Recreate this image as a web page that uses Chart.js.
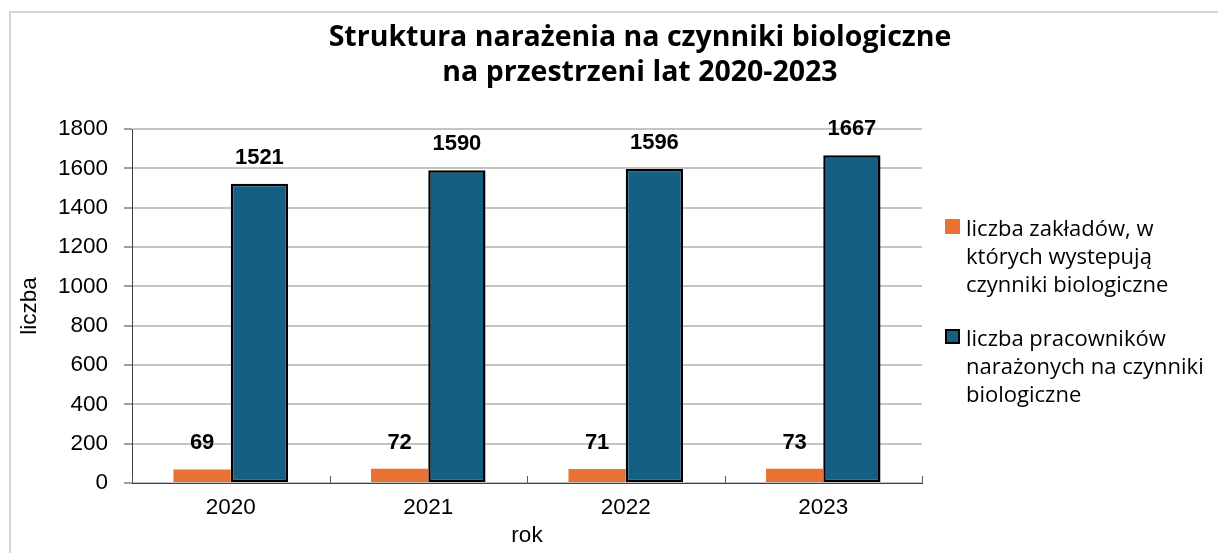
<!DOCTYPE html>
<html lang="pl">
<head>
<meta charset="utf-8">
<title>Struktura narażenia na czynniki biologiczne</title>
<script src="https://cdn.jsdelivr.net/npm/chart.js@4/dist/chart.umd.min.js"></script>
<style>
  html, body { margin: 0; padding: 0; background: #fff; overflow: hidden; }
  #wrap { position: relative; width: 1218px; height: 553px; }
  #frame {
    position: absolute; left: 9px; top: 11px; width: 1300px; height: 600px;
    border-left: 2px solid #d4d4d4; border-top: 2px solid #d4d4d4;
  }
  #myChart { position: absolute; left: 0; top: 0; }
  #title {
    position: absolute; left: 0; top: 18px; width: 1280px; text-align: center;
    font-family: "Open Sans", sans-serif; font-weight: 700; font-size: 28.5px;
    line-height: 35px; color: #000;
  }
  #legend {
    position: absolute; left: 945px; top: 213px;
    font-family: "Open Sans", sans-serif; font-size: 22px; line-height: 28px; color: #000;
  }
  .item { position: relative; padding-left: 21px; margin-bottom: 26px; white-space: nowrap; }
  .box { position: absolute; left: 0; top: 6px; width: 15px; height: 15px; box-sizing: border-box; }
</style>
</head>
<body>
<div id="wrap">
  <div id="frame"></div>
  <canvas id="myChart" width="1218" height="553"></canvas>
  <div id="title">Struktura narażenia na czynniki biologiczne<br>na przestrzeni lat 2020-2023</div>
  <div id="legend"></div>
</div>
<script>
const years = ['2020', '2021', '2022', '2023'];
const zaklady = [69, 72, 71, 73];
const pracownicy = [1521, 1590, 1596, 1667];
const seriesNames = [
  ['liczba zakładów, w', 'których wystepują', 'czynniki biologiczne'],
  ['liczba pracowników', 'narażonych na czynniki', 'biologiczne']
];

// value labels above each bar
const barLabels = {
  id: 'barLabels',
  afterDatasetsDraw(chart) {
    const ctx = chart.ctx;
    ctx.save();
    ctx.font = 'bold 22px "Liberation Sans", Arial, sans-serif';
    ctx.fillStyle = '#000';
    ctx.textAlign = 'center';
    ctx.textBaseline = 'middle';
    chart.data.datasets.forEach((ds, i) => {
      chart.getDatasetMeta(i).data.forEach((bar, j) => {
        ctx.fillText(String(ds.data[j]), bar.x, bar.y - 26);
      });
    });
    ctx.restore();
  }
};

// small inward ticks between categories
const categoryTicks = {
  id: 'categoryTicks',
  afterDraw(chart) {
    const x = chart.scales.x;
    const ctx = chart.ctx;
    ctx.save();
    ctx.strokeStyle = '#595959';
    ctx.lineWidth = 1;
    for (let i = 0; i <= years.length; i++) {
      const px = Math.round(x.getPixelForValue(i - 0.5)) + 0.5;
      ctx.beginPath();
      ctx.moveTo(px, x.top);
      ctx.lineTo(px, x.top - 7);
      ctx.stroke();
    }
    ctx.restore();
  }
};

function initChart(target) {
  const data = {
    labels: years,
    datasets: [{
      label: seriesNames[0].join(' '),
      data: zaklady,
      backgroundColor: '#E97132',
      borderWidth: 0
    }, {
      label: seriesNames[1].join(' '),
      data: pracownicy,
      backgroundColor: '#156082',
      borderColor: '#000',
      borderWidth: 2.5,
      borderSkipped: false
    }]
  };

  const tickFont = { family: '"Liberation Sans", Arial, sans-serif', size: 22.5 };

  const config = {
    type: 'bar',
    data: data,
    options: {
      responsive: false,
      animation: false,
      layout: { padding: { left: 10, right: 296, top: 129, bottom: 0 } },
      datasets: { bar: { categoryPercentage: 0.58, barPercentage: 1.0 } },
      plugins: {
        legend: { display: false },
        title: { display: false },
        tooltip: { enabled: false }
      },
      scales: {
        x: {
          afterFit(s) { s.height = 70; },
          grid: { display: true, drawOnChartArea: false, drawTicks: false },
          border: { display: true, color: '#404040', width: 1 },
          ticks: { color: '#000', font: tickFont, padding: 11 },
          title: { display: true, text: 'rok', color: '#000', font: tickFont, padding: { top: 0, bottom: 4 } }
        },
        y: {
          min: 0,
          max: 1800,
          afterFit(s) { s.width = 122; },
          grid: { color: '#c4c4c4', lineWidth: 2, tickColor: '#404040', tickWidth: 1, tickLength: 8 },
          border: { display: true, color: '#404040', width: 1 },
          ticks: { stepSize: 200, color: '#000', font: tickFont, padding: 16, callback: v => String(v) },
          title: { display: true, text: 'liczba', color: '#000', font: tickFont, padding: { top: 6, bottom: 0 } }
        }
      }
    },
    plugins: [barLabels, categoryTicks]
  };

  return new Chart(target, config);
}

function buildLegend() {
  const colors = [['#E97132', 'none'], ['#156082', '2px solid #000']];
  const legend = document.querySelector('#legend');
  seriesNames.forEach((lines, i) => {
    const item = document.createElement('div');
    item.className = 'item';
    const box = document.createElement('span');
    box.className = 'box';
    box.style.background = colors[i][0];
    box.style.border = colors[i][1];
    item.appendChild(box);
    item.insertAdjacentHTML('beforeend', lines.join('<br>'));
    legend.appendChild(item);
  });
}

buildLegend();
initChart(document.querySelector('#myChart'));
</script>
</body>
</html>
